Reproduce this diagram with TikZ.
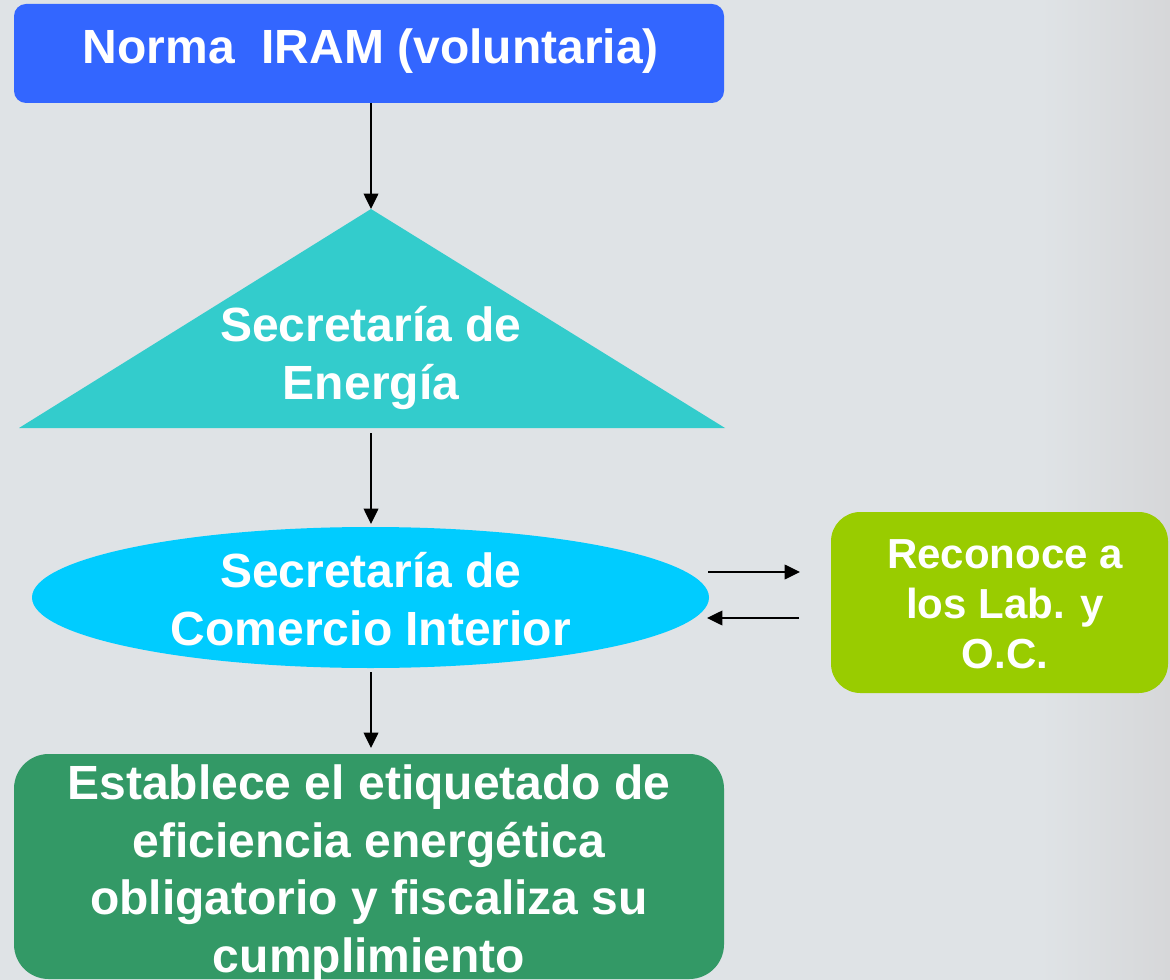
\documentclass[tikz,border=0pt]{standalone}
\usepackage{fontspec}
\setmainfont{Liberation Sans}
\usetikzlibrary{arrows.meta,shapes.geometric}
\definecolor{bgL}{HTML}{DFE3E6}
\definecolor{bgR}{HTML}{D6D7D9}
\definecolor{cTop}{HTML}{3366FF}
\definecolor{cTri}{HTML}{33CCCC}
\definecolor{cEll}{HTML}{00CCFF}
\definecolor{cGrn}{HTML}{99CC00}
\definecolor{cBot}{HTML}{339966}
\tikzset{
  shapebox/.style={inner sep=0pt,outer sep=0pt,draw=none},
  bigtxt/.style={anchor=base,text=white,inner sep=0pt,font=\bfseries\fontsize{36}{43}\selectfont},
  smalltxt/.style={anchor=base,text=white,inner sep=0pt,font=\bfseries\fontsize{31.5}{38}\selectfont},
  arr/.style={line width=1.1pt,black,-{Triangle[length=11.5pt,width=11pt]}}
}
\begin{document}
\begin{tikzpicture}[x=0.75pt,y=-0.75pt]
\useasboundingbox (0,0) rectangle (1170,980);
% background
\fill[bgL] (0,0) rectangle (1170,980);
\shade[left color=bgL,right color=bgR,draw=none] (1040,0) rectangle (1170,980);

% top box
\node[shapebox,fill=cTop,rounded corners=9pt,minimum width=532.5pt,minimum height=74.25pt] (top) at (369,53.5) {};
\node[bigtxt] (toptxt) at (371,64) {Norma\ \ IRAM (voluntaria)};

% triangle
\coordinate (triapex) at (371,209);
\coordinate (tribl) at (19,428);
\coordinate (tribr) at (725,428);
\coordinate (tribase) at (371,433);
\fill[cTri] (triapex) -- (tribr) -- (tribl) -- cycle;
\node[bigtxt] (tri1) at (371,342) {Secretaría de};
\node[bigtxt] (tri2) at (371,399) {Energía};

% ellipse
\node[shapebox,fill=cEll,ellipse,minimum width=507.75pt,minimum height=105.75pt] (ell) at (370.5,597.5) {};
\node[bigtxt] (ell1) at (371,587) {Secretaría de};
\node[bigtxt] (ell2) at (371,645) {Comercio Interior};

% green box
\node[shapebox,fill=cGrn,rounded corners=22pt,minimum width=252.75pt,minimum height=135.75pt] (grn) at (999.5,602.5) {};
\node[smalltxt] (g1) at (1005,568) {Reconoce a};
\node[smalltxt] (g2) at (1005,618) {los Lab. y};
\node[smalltxt] (g3) at (1005,668) {O.C.};

% bottom box
\node[shapebox,fill=cBot,rounded corners=26pt,minimum width=532.5pt,minimum height=168.75pt] (bot) at (369,866.5) {};
\node[bigtxt] (b1) at (369,799) {Establece el etiquetado de};
\node[bigtxt] (b2) at (369,857) {eficiencia energética};
\node[bigtxt] (b3) at (369,914) {obligatorio y fiscaliza su};
\node[bigtxt] (b4) at (369,972) {cumplimiento};

% connectors
\coordinate (a1s) at (top.south -| triapex);
\draw[arr] (a1s) -- (triapex);
\coordinate (a2e) at (371,524);
\draw[arr] (tribase) -- (a2e);
\coordinate (r1s) at (708,572);
\coordinate (r1e) at (800,572);
\coordinate (r2s) at (799,618);
\coordinate (r2e) at (707,618);
\draw[arr] (r1s) -- (r1e);
\draw[arr] (r2s) -- (r2e);
\coordinate (a3s) at (371,672);
\coordinate (a3e) at (371,748);
\draw[arr] (a3s) -- (a3e);
\end{tikzpicture}
\end{document}
